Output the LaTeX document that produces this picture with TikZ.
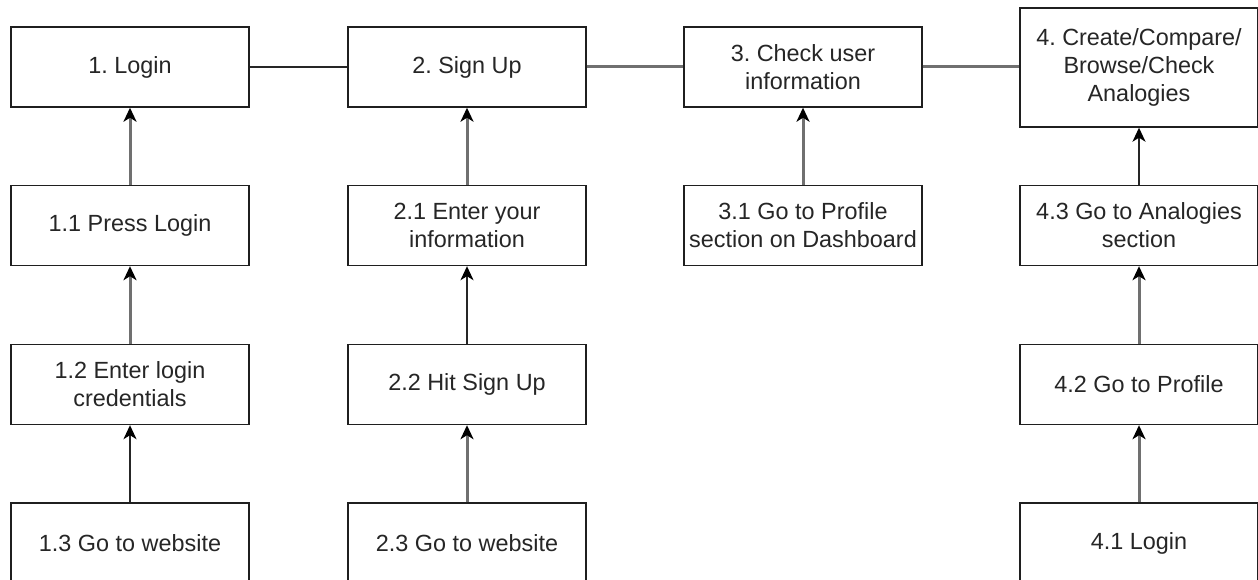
\documentclass[tikz,border=0pt]{standalone}
\usepackage{fontspec}
\setmainfont{Liberation Sans}
\usetikzlibrary{arrows.meta}
\definecolor{conngray}{HTML}{707070}
\tikzset{
  box/.style={draw=black!88, line width=1.4pt, fill=white, minimum width=238pt, minimum height=80pt,
    inner sep=0pt, align=center, font=\fontsize{23.4}{28}\selectfont\frenchspacing, text=black!85},
  tipstyle/.style={arrows={-Stealth[length=14pt,width=13pt,inset=4pt,color=black]}},
  garrow/.style={color=conngray, line width=3pt, tipstyle},
  barrow/.style={color=black!85, line width=1.8pt, tipstyle},
  gline/.style={color=conngray, line width=3pt},
  bline/.style={color=black!85, line width=1.5pt}
}
\begin{document}
\begin{tikzpicture}[x=1pt,y=1pt]
\useasboundingbox (0,0) rectangle (1258,-580);
\clip (0,0) rectangle (1258,-580);
\fill[white] (0,0) rectangle (1258,-580);
% column 1
\node[box] (n1) at (130,-67) {1. Login};
\node[box] (n11) at (130,-225.5) {1.1 Press Login};
\node[box] (n12) at (130,-384.5) {1.2 Enter login\\credentials};
\node[box] (n13) at (130,-543) {1.3 Go to website};
% column 2
\node[box] (n2) at (467,-67) {2. Sign Up};
\node[box] (n21) at (467,-225.5) {2.1 Enter your\\information};
\node[box] (n22) at (467,-384.5) {2.2 Hit Sign Up};
\node[box] (n23) at (467,-543) {2.3 Go to website};
% column 3
\node[box] (n3) at (803,-67) {3. Check user\\information};
\node[box] (n31) at (803,-225.5) {3.1 Go to Profile\\section on Dashboard};
% column 4
\node[box, minimum height=119pt] (n4) at (1139,-67.5) {4. Create/Compare/\\Browse/Check\\Analogies};
\node[box] (n43) at (1139,-225.5) {4.3 Go to Analogies\\section};
\node[box] (n42) at (1139,-384.5) {4.2 Go to Profile};
\node[box] (n41) at (1139,-543) {4.1 Login};
% horizontal links
\draw[bline] (n1.east) -- (n2.west);
\draw[gline] (n2.east) -- (n3.west);
\draw[gline] (n3.east) -- (n4.west |- n3.east);
% arrows
\draw[garrow] (n11.north) -- (n1.south);
\draw[garrow] (n12.north) -- (n11.south);
\draw[barrow] (n13.north) -- (n12.south);
\draw[garrow] (n21.north) -- (n2.south);
\draw[barrow] (n22.north) -- (n21.south);
\draw[garrow] (n23.north) -- (n22.south);
\draw[garrow] (n31.north) -- (n3.south);
\draw[barrow] (n43.north) -- (n4.south);
\draw[garrow] (n42.north) -- (n43.south);
\draw[garrow] (n41.north) -- (n42.south);
\end{tikzpicture}
\end{document}
